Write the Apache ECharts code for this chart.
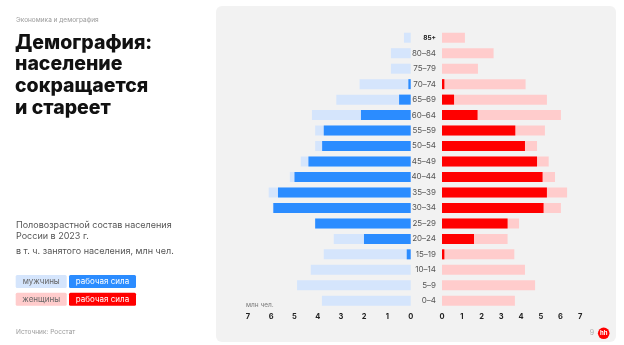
<!DOCTYPE html>
<html>
<head>
<meta charset="utf-8">
<script src="https://cdn.jsdelivr.net/npm/echarts@6/dist/echarts.min.js"></script>
<style>
  html, body { margin: 0; padding: 0; background: #fff; }
  #chart { width: 624px; height: 345px; }
</style>
</head>
<body>
<div id="chart"></div>
<script>
// Age groups, top to bottom
const ages = ['85+', '80–84', '75–79', '70–74', '65–69', '60–64', '55–59', '50–54', '45–49',
  '40–44', '35–39', '30–34', '25–29', '20–24', '15–19', '10–14', '5–9', '0–4'];

// Population by sex and age, mln people (2023)
const menTotal = [0.29, 0.85, 0.85, 2.2, 3.2, 4.25, 4.11, 4.11, 4.73, 5.2, 6.11, 5.93, 4.12, 3.31, 3.74, 4.30, 4.89, 3.82];
const menLabour = [0, 0, 0, 0.1, 0.5, 2.14, 3.74, 3.81, 4.40, 5.0, 5.71, 5.91, 4.11, 2.01, 0.17, 0, 0, 0];
const womenTotal = [1.16, 2.61, 1.82, 4.23, 5.31, 6.02, 5.21, 4.81, 5.40, 5.72, 6.33, 6.02, 3.90, 3.32, 3.66, 4.20, 4.71, 3.69];
const womenLabour = [0, 0, 0, 0.12, 0.61, 1.80, 3.71, 4.20, 4.81, 5.09, 5.31, 5.14, 3.32, 1.62, 0.12, 0, 0, 0];

// Value-axis ticks
const xTicks = [0, 1, 2, 3, 4, 5, 6, 7];

const C = {
  menLight: '#d5e5fc', menDark: '#2b8cff',
  womenLight: '#ffcccc', womenDark: '#ff0000',
  panel: '#f2f2f2'
};
const FONT = 'Inter, "Noto Sans", sans-serif';

const chart = echarts.init(document.getElementById('chart'), null, { renderer: 'canvas' });

const valueAxis = (gridIndex, inverse) => ({
  type: 'value', gridIndex, inverse,
  min: xTicks[0], max: xTicks[xTicks.length - 1], interval: 1,
  axisLine: { show: false }, axisTick: { show: false }, splitLine: { show: false },
  axisLabel: { margin: 4, fontSize: 7.5, fontWeight: 'bold', color: '#222', fontFamily: FONT }
});

const catAxis = (gridIndex, showLabels) => ({
  type: 'category', gridIndex, data: ages, inverse: true,
  axisLine: { show: false }, axisTick: { show: false },
  axisLabel: showLabels ? {
    show: true, margin: 6, fontSize: 8, color: '#555', fontFamily: FONT, align: 'right',
    formatter: (v) => v === '85+' ? '{b|' + v + '}' : v,
    rich: { b: { fontSize: 6.5, fontWeight: 'bold', color: '#222', fontFamily: FONT } }
  } : { show: false }
});

const bar = (name, data, color, xi, yi, z) => ({
  name, type: 'bar', data, xAxisIndex: xi, yAxisIndex: yi,
  barWidth: 10, barGap: '-100%', z, itemStyle: { color },
  silent: true, animation: false
});

const text = (x, y, str, style) => ({
  type: 'text', x, y, style: Object.assign({ text: str, fontFamily: FONT }, style)
});

const legendBox = (x, y, w, fill, label, color) => ({
  type: 'group', x, y, children: [
    { type: 'rect', shape: { x: 0, y: 0, width: w, height: 13, r: 1.5 }, style: { fill } },
    { type: 'text', x: w / 2, y: 6.5, style: { text: label, fill: color, fontSize: 8, fontFamily: FONT, align: 'center', verticalAlign: 'middle' } }
  ]
});

chart.setOption({
  backgroundColor: '#ffffff',
  animation: false,
  grid: [
    { left: 248, right: 213.3, top: 30, height: 278.5, containLabel: false },
    { left: 442, right: 43.7, top: 30, height: 278.5, containLabel: false }
  ],
  xAxis: [valueAxis(0, true), valueAxis(1, false)],
  yAxis: [catAxis(0, false), catAxis(1, true)],
  series: [
    bar('мужчины', menTotal, C.menLight, 0, 0, 2),
    bar('мужчины, рабочая сила', menLabour, C.menDark, 0, 0, 3),
    bar('женщины', womenTotal, C.womenLight, 1, 1, 2),
    bar('женщины, рабочая сила', womenLabour, C.womenDark, 1, 1, 3)
  ],
  graphic: [
    { type: 'rect', z: -10, shape: { x: 216, y: 6, width: 400, height: 336, r: 6 }, style: { fill: C.panel } },
    text(16, 17, 'Экономика и демография', { fontSize: 6.5, fill: '#9a9a9a' }),
    text(15, 32, 'Демография:\nнаселение\nсокращается\nи стареет', { fontSize: 19.5, fontWeight: 800, fill: '#111', lineHeight: 21.7 }),
    text(16, 220.5, 'Половозрастной состав населения\nРоссии в 2023 г.', { fontSize: 9, fill: '#555', lineHeight: 10.5 }),
    text(16, 247, 'в т. ч. занятого населения, млн чел.', { fontSize: 9, fill: '#555' }),
    legendBox(15.7, 275, 51, C.menLight, 'мужчины', '#666'),
    legendBox(69, 275, 67, C.menDark, 'рабочая сила', '#fff'),
    legendBox(15.7, 292.7, 51, C.womenLight, 'женщины', '#666'),
    legendBox(69, 292.7, 67, C.womenDark, 'рабочая сила', '#fff'),
    text(16, 329, 'Источник: Росстат', { fontSize: 6.5, fill: '#9a9a9a' }),
    text(246, 301.5, 'млн чел.', { fontSize: 6.5, fill: '#777' }),
    text(592, 333, '9', { fontSize: 7, fill: '#aaa', align: 'center', verticalAlign: 'middle' }),
    { type: 'circle', shape: { cx: 603.7, cy: 333.3, r: 5.8 }, style: { fill: '#ff0000' } },
    text(603.7, 333.5, 'hh', { fontSize: 6, fontWeight: 'bold', fill: '#fff', align: 'center', verticalAlign: 'middle' })
  ]
});
</script>
</body>
</html>
